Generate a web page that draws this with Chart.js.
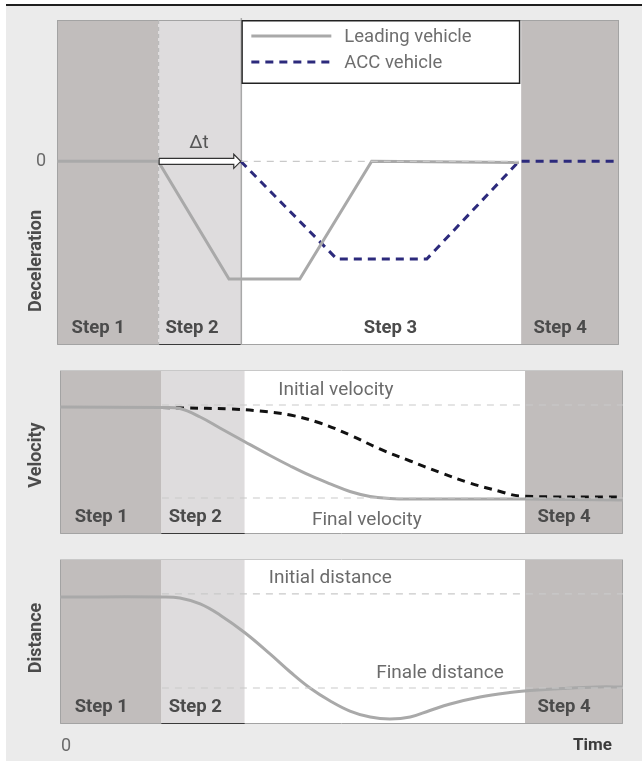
<!DOCTYPE html>
<html>
<head>
<meta charset="utf-8">
<script src="https://cdn.jsdelivr.net/npm/chart.js@4.4.1/dist/chart.umd.min.js"></script>
<style>
  html, body { margin: 0; padding: 0; background: #fff; }
  #frame { position: absolute; left: 6px; top: 4px; width: 636px; height: 757px; background: #ebebeb; border-top: 2px solid #1e1e1e; }
  .panel { position: absolute; left: 0; width: 642px; }
  canvas { display: block; }
</style>
</head>
<body>
<div id="frame"></div>
<div class="panel" style="top:0;height:360px"><canvas id="decel" width="642" height="360"></canvas></div>
<div class="panel" style="top:360px;height:190px"><canvas id="velocity" width="642" height="190"></canvas></div>
<div class="panel" style="top:550px;height:211px"><canvas id="distance" width="642" height="211"></canvas></div>
<script>
// Time axis runs 0..100; phase boundaries of the ACC braking scenario
const stepBounds = [0, 18, 32.8, 82.6, 100];
const stepNames = ['Step 1', 'Step 2', 'Step 3', 'Step 4'];
const stepLabelT = [2.6, 19.3, 54.6, 84.8];

// Deceleration (0 = no braking, -1 = leading vehicle's full braking)
const leadDecelT = [0, 18, 30.6, 43.2, 56, 82.2];
const leadDecelV = [0, 0, -1, -1, 0, -0.01];
const accDecelT = [32.7, 49.8, 65.8, 82.2, 100];
const accDecelV = [0, -0.83, -0.83, 0, 0];

// Velocity (1 = initial velocity, 0 = final velocity)
const leadVelT = [0, 18.1, 21.3, 24.9, 28.4, 32.9, 37.3, 40.9, 44.4, 48.0, 51.5, 55.1, 58.6, 62.2, 82.6, 100];
const leadVelV = [0.978, 0.973, 0.962, 0.871, 0.753, 0.602, 0.457, 0.344, 0.242, 0.151, 0.070, 0.016, -0.005, -0.011, -0.011, -0.022];
const accVelT = [18.1, 21.8, 30.2, 35.5, 40.9, 46.2, 51.5, 56.8, 62.2, 67.5, 72.8, 78.2, 81.7, 100];
const accVelV = [0.973, 0.968, 0.957, 0.935, 0.892, 0.806, 0.677, 0.527, 0.398, 0.274, 0.161, 0.070, 0.022, 0.011];

// Distance between the vehicles (1 = initial distance, 0 = final distance)
const distT = [0, 18.1, 21.3, 24.9, 28.4, 32.9, 37.3, 40.9, 44.4, 48.0, 51.5, 55.1, 58.6, 62.2, 65.7, 69.3, 74.6, 79.9, 83.5, 89.3, 95.4, 100];
const distV = [0.968, 0.968, 0.957, 0.894, 0.777, 0.585, 0.362, 0.170, 0, -0.138, -0.245, -0.309, -0.330, -0.309, -0.239, -0.170, -0.096, -0.048, -0.027, -0.005, 0.011, 0.011];

// Reference levels
const refStartT = 18.1;
const velInitial = 1, velFinal = 0;
const distInitial = 1, distFinal = 0;

const FONT = 'Roboto, "Liberation Sans", Arial, sans-serif';
const GREY_LINE = '#a9a9a9';
const NAVY = '#2c2a7c';
const DARK_FILL = '#c1bdbc';
const LIGHT_FILL = '#dedcdd';
const stepFills = [DARK_FILL, LIGHT_FILL, '#ffffff', DARK_FILL];

const pts = (ts, vs) => ts.map((t, i) => ({ x: t, y: vs[i] }));
const refLine = (v, t0, t1 = 100) => ({
  data: [{ x: t0, y: v }, { x: t1, y: v }],
  borderColor: '#c9c9c9', borderWidth: 1.2, borderDash: [7, 6],
  pointRadius: 0, tension: 0, ref: true
});

const decor = {
  id: 'decor',
  beforeDatasetsDraw(chart, args, o) {
    const { ctx, chartArea: a, scales: { x } } = chart;
    const px = stepBounds.map(t => x.getPixelForValue(t));
    ctx.save();
    stepFills.forEach((c, i) => {
      ctx.fillStyle = c;
      ctx.fillRect(px[i], a.top, px[i + 1] - px[i], a.bottom - a.top);
    });
    // frame
    ctx.lineWidth = 1;
    ctx.strokeStyle = '#a3a3a3';
    ctx.beginPath();
    ctx.moveTo(a.left + 0.5, a.top); ctx.lineTo(a.left + 0.5, a.bottom - 0.5);
    ctx.lineTo(a.right - 0.5, a.bottom - 0.5); ctx.lineTo(a.right - 0.5, a.top);
    ctx.stroke();
    ctx.strokeStyle = o.topColor || '#c8c8c8';
    ctx.beginPath(); ctx.moveTo(a.left, a.top + 0.5); ctx.lineTo(a.right, a.top + 0.5); ctx.stroke();
    ctx.strokeStyle = '#3a3a3a';
    ctx.beginPath(); ctx.moveTo(px[1], a.bottom - 0.5); ctx.lineTo(px[2], a.bottom - 0.5); ctx.stroke();
    if (o.dividers) {
      ctx.strokeStyle = '#b5b5b5';
      ctx.setLineDash([4, 3]);
      ctx.beginPath(); ctx.moveTo(px[1] + 0.5, a.top); ctx.lineTo(px[1] + 0.5, a.bottom); ctx.stroke();
      ctx.setLineDash([]);
      ctx.strokeStyle = '#a8a8a8';
      ctx.lineWidth = 1.5;
      ctx.beginPath(); ctx.moveTo(px[2], a.top - 2); ctx.lineTo(px[2], a.bottom); ctx.stroke();
    }
    ctx.restore();
  },
  afterDatasetsDraw(chart, args, o) {
    const { ctx, chartArea: a, scales: { x, y } } = chart;
    ctx.save();
    // step labels
    ctx.font = 'bold 18.5px ' + FONT;
    ctx.fillStyle = '#4b4b4b';
    ctx.textBaseline = 'middle';
    ctx.textAlign = 'left';
    (o.steps || []).forEach(i => {
      ctx.fillText(stepNames[i], x.getPixelForValue(stepLabelT[i]), a.bottom - 17);
    });
    // reference line captions
    ctx.font = '19px ' + FONT;
    ctx.fillStyle = '#6b6b6b';
    ctx.textAlign = 'center';
    (o.captions || []).forEach(c => {
      ctx.fillText(c.text, x.getPixelForValue(c.t), y.getPixelForValue(c.v) + c.dy);
    });
    // axis title
    if (o.title) {
      ctx.save();
      ctx.translate(36, o.titleY);
      ctx.rotate(-Math.PI / 2);
      ctx.font = 'bold 18px ' + FONT;
      ctx.fillStyle = '#4b4b4b';
      ctx.textAlign = 'center';
      ctx.fillText(o.title, 0, 0);
      ctx.restore();
    }
    // zero tick on the deceleration axis
    if (o.zeroTick) {
      ctx.font = '18px ' + FONT;
      ctx.fillStyle = '#6b6b6b';
      ctx.textAlign = 'center';
      ctx.fillText('0', 41, y.getPixelForValue(0));
    }
    // time axis captions
    if (o.timeAxis) {
      const ty = a.bottom + 22;
      ctx.font = '18px ' + FONT;
      ctx.fillStyle = '#6b6b6b';
      ctx.textAlign = 'left';
      ctx.fillText('0', a.left + 1, ty);
      ctx.font = 'bold 17px ' + FONT;
      ctx.fillStyle = '#3c3c3c';
      ctx.textAlign = 'right';
      ctx.fillText('Time', a.right - 11, ty);
    }
    // reaction delay arrow
    if (o.arrow) {
      const x0 = x.getPixelForValue(stepBounds[1]) + 1;
      const x1 = x.getPixelForValue(accDecelT[0]);
      const yc = y.getPixelForValue(0);
      ctx.beginPath();
      ctx.moveTo(x0, yc - 3);
      ctx.lineTo(x1 - 7, yc - 3);
      ctx.lineTo(x1 - 7, yc - 7);
      ctx.lineTo(x1, yc);
      ctx.lineTo(x1 - 7, yc + 7);
      ctx.lineTo(x1 - 7, yc + 3);
      ctx.lineTo(x0, yc + 3);
      ctx.closePath();
      ctx.fillStyle = '#fff';
      ctx.fill();
      ctx.strokeStyle = '#333';
      ctx.lineWidth = 1.2;
      ctx.stroke();
      ctx.font = '19px ' + FONT;
      ctx.fillStyle = '#555';
      ctx.textAlign = 'center';
      ctx.fillText('\u0394t', (x0 + x1) / 2 - 1, yc - 18);
    }
    // legend box
    if (o.legend) {
      const lx = x.getPixelForValue(stepBounds[2]);
      const lw = 279, lh = 64, ly = a.top;
      ctx.fillStyle = '#fff';
      ctx.fillRect(lx, ly, lw, lh);
      ctx.strokeStyle = '#222';
      ctx.lineWidth = 1.5;
      ctx.strokeRect(lx + 0.75, ly + 0.75, lw - 1.5, lh - 1.5);
      const items = chart.data.datasets.filter(d => !d.ref);
      items.forEach((d, i) => {
        const yy = ly + 16 + i * 26;
        ctx.beginPath();
        ctx.strokeStyle = d.borderColor;
        ctx.lineWidth = d.borderWidth;
        ctx.setLineDash(d.borderDash || []);
        ctx.moveTo(lx + 10, yy); ctx.lineTo(lx + 90, yy);
        ctx.stroke();
        ctx.setLineDash([]);
        ctx.font = '18.5px ' + FONT;
        ctx.fillStyle = '#6e6e6e';
        ctx.textAlign = 'left';
        ctx.fillText(d.label, lx + 103, yy + 1);
      });
    }
    ctx.restore();
  }
};

function makeChart(id, datasets, yMin, yMax, padding, decorOpts) {
  return new Chart(document.getElementById(id), {
    type: 'line',
    data: { datasets },
    options: {
      responsive: false,
      animation: false,
      layout: { padding },
      scales: {
        x: { type: 'linear', min: 0, max: 100, display: false },
        y: { type: 'linear', min: yMin, max: yMax, display: false }
      },
      plugins: { legend: { display: false }, tooltip: { enabled: false }, decor: decorOpts },
      elements: { point: { radius: 0 } }
    },
    plugins: [decor]
  });
}

makeChart('decel', [
  refLine(0, accDecelT[0], accDecelT[3]),
  { label: 'Leading vehicle', data: pts(leadDecelT, leadDecelV), borderColor: GREY_LINE, borderWidth: 3, tension: 0 },
  { label: 'ACC vehicle', data: pts(accDecelT, accDecelV), borderColor: NAVY, borderWidth: 3, borderDash: [8, 6], tension: 0 }
], -1.56, 1.2, { left: 57, top: 20, right: 23, bottom: 15 }, {
  steps: [0, 1, 2, 3], title: 'Deceleration', titleY: 261, zeroTick: true, arrow: true, legend: true, dividers: true, topColor: '#a3a3a3'
});

makeChart('velocity', [
  refLine(velInitial, refStartT),
  refLine(velFinal, refStartT),
  { label: 'Leading vehicle', data: pts(leadVelT, leadVelV), borderColor: GREY_LINE, borderWidth: 3, tension: 0.4 },
  { label: 'ACC vehicle', data: pts(accVelT, accVelV), borderColor: '#111', borderWidth: 3, borderDash: [8, 6], tension: 0.4 }
], -0.387, 1.376, { left: 60, top: 10, right: 19, bottom: 16 }, {
  steps: [0, 1, 3], title: 'Velocity', titleY: 95,
  captions: [
    { text: 'Initial velocity', t: 49.0, v: velInitial, dy: -15 },
    { text: 'Final velocity', t: 54.5, v: velFinal, dy: 22 }
  ]
});

makeChart('distance', [
  refLine(distInitial, refStartT),
  refLine(distFinal, refStartT),
  { label: 'Distance', data: pts(distT, distV), borderColor: GREY_LINE, borderWidth: 3, tension: 0.4 }
], -0.383, 1.372, { left: 60, top: 9, right: 19, bottom: 37 }, {
  steps: [0, 1, 3], title: 'Distance', titleY: 88, timeAxis: true,
  captions: [
    { text: 'Initial distance', t: 48.0, v: distInitial, dy: -16 },
    { text: 'Finale distance', t: 67.5, v: distFinal, dy: -15 }
  ]
});
</script>
</body>
</html>
